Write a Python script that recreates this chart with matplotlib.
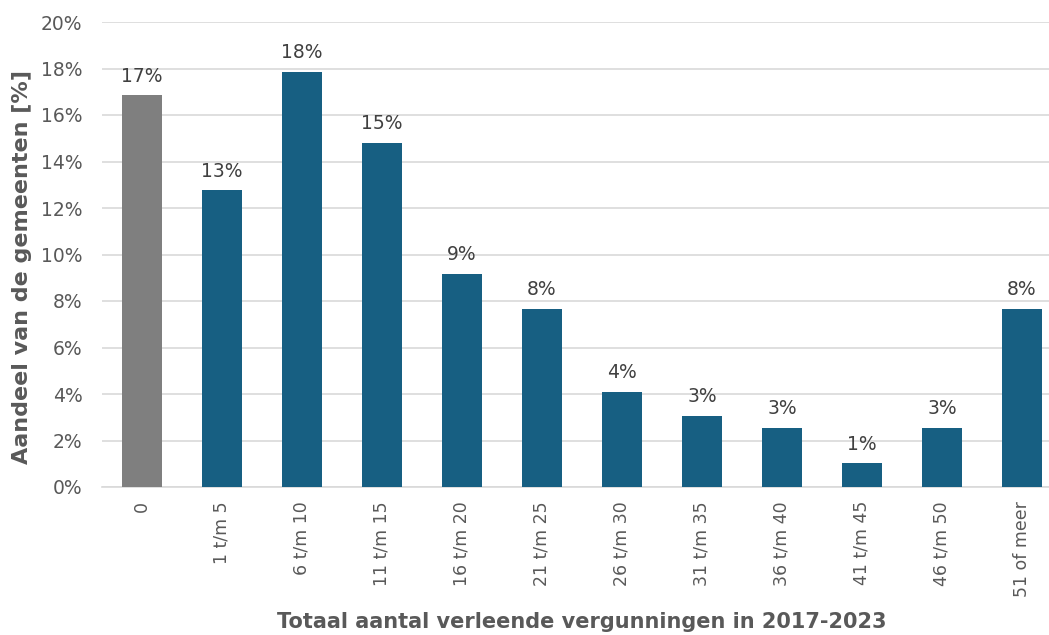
import matplotlib
matplotlib.use("Agg")
import matplotlib.pyplot as plt
from matplotlib.ticker import FuncFormatter, MultipleLocator

categories = ["0", "1 t/m 5", "6 t/m 10", "11 t/m 15", "16 t/m 20", "21 t/m 25",
              "26 t/m 30", "31 t/m 35", "36 t/m 40", "41 t/m 45", "46 t/m 50", "51 of meer"]
values = [16.84, 12.76, 17.86, 14.80, 9.18, 7.65, 4.08, 3.06, 2.55, 1.02, 2.55, 7.65]
bar_colors = ["#7F7F7F"] + ["#175F82"] * 11
xlabel = "Totaal aantal verleende vergunningen in 2017-2023"
ylabel = "Aandeel van de gemeenten [%]"

plt.rcParams['font.family'] = ['DejaVu Sans']
fig = plt.figure(figsize=(10.49, 6.35), dpi=100)
ax = fig.add_axes([102/1049, 148/635, 960/1049, 465/635])

x = range(len(categories))
ax.bar(x, values, width=0.5, color=bar_colors, zorder=3)
for xi, v in zip(x, values):
    ax.annotate(f"{v:.0f}%", (xi, v), xytext=(0, 7), textcoords="offset points",
                ha="center", va="bottom", fontsize=13.5, color="#404040")

ax.set_xlim(-0.5, 11.5)
ax.set_ylim(0, 20)
ax.yaxis.set_major_locator(MultipleLocator(2))
ax.yaxis.set_major_formatter(FuncFormatter(lambda v, p: f"{v:.0f}%"))
ax.grid(axis="y", color="#D9D9D9", linewidth=1.2, zorder=0)
ax.set_xticks(list(x))
ax.set_xticklabels(categories, rotation=90, fontsize=12.5, color="#595959")
ax.tick_params(axis="y", labelsize=13.5, labelcolor="#595959", length=0, pad=14)
ax.tick_params(axis="x", length=0, pad=10)
for s in ["top", "right", "left"]:
    ax.spines[s].set_visible(False)
ax.spines["bottom"].set_color("#D9D9D9")
ax.spines["bottom"].set_linewidth(1.2)

ax.set_xlabel(xlabel, fontsize=15, fontweight="bold", color="#595959")
ax.xaxis.set_label_coords(0.5, -0.268)
ax.set_ylabel(ylabel, fontsize=16, fontweight="bold", color="#595959")
ax.yaxis.set_label_coords(-0.073, 0.473)

fig.savefig("out.png", dpi=100)
